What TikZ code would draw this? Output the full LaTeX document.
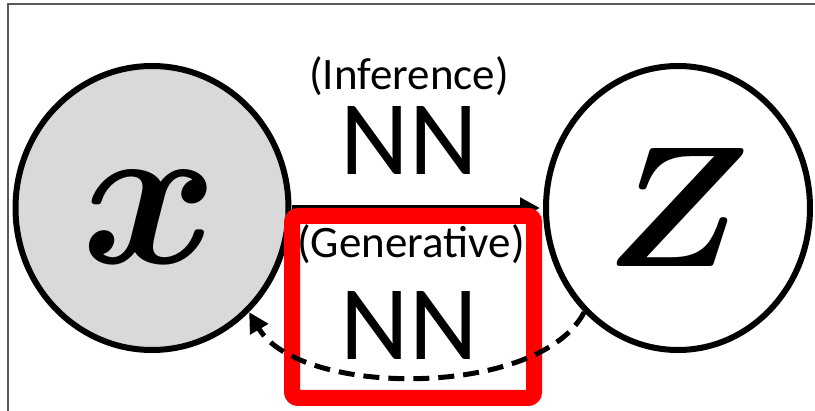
\documentclass[tikz,border=0pt]{standalone}
\usepackage{fontspec}
\setmainfont{Carlito}
\newfontfamily\varfont{Latin Modern Math}
\usetikzlibrary{shapes.geometric,arrows.meta}

\begin{document}
\begin{tikzpicture}[x=1pt,y=-1pt,
    var/.style={draw, line width=6pt, ellipse, inner sep=0pt},
    lbl/.style={font=\fontsize{45}{45}\selectfont, anchor=base},
    nn/.style={font=\fontsize{106}{106}\selectfont, anchor=base},
    tip/.style={-{Triangle[length=20pt,width=20pt]}}]
    \useasboundingbox (0,0) rectangle (815,411);
    % thin frame on top and left
    \draw[black!65, line width=1.2pt] (8,411) -- (8,4) -- (815,4);

    % the two variables
    \node[var, fill=black!15, minimum width=273pt, minimum height=284pt] (xnode) at (152,208) {};
    \node[var, fill=white, minimum width=264pt, minimum height=284pt] (znode) at (678,208) {};
    \node[font=\fontsize{208}{208}\varfont] (xlbl) at (150,217) {𝒙};
    \node[font=\fontsize{172}{172}\varfont] (zlbl) at (672,208) {𝒁};

    % inference network
    \draw[line width=5pt, tip, shorten >=3pt] (xnode) -- (znode);
    \node[lbl] (inflbl) at (409,90) {(Inference)};
    \node[nn] (infnn) at (409,175) {NN};

    % generative network, boxed
    \draw[red, line width=16pt, rounded corners=6pt] (292,216) rectangle (534,398);
    \node[lbl] (genlbl) at (411,258) {(Generative)};
    \node[nn] (gennn) at (409,360) {NN};
    \draw[line width=5pt, dash pattern=on 16pt off 9pt, tip]
        (znode.-132) .. controls (540,398) and (300,398) .. (xnode.-47);
\end{tikzpicture}
\end{document}
